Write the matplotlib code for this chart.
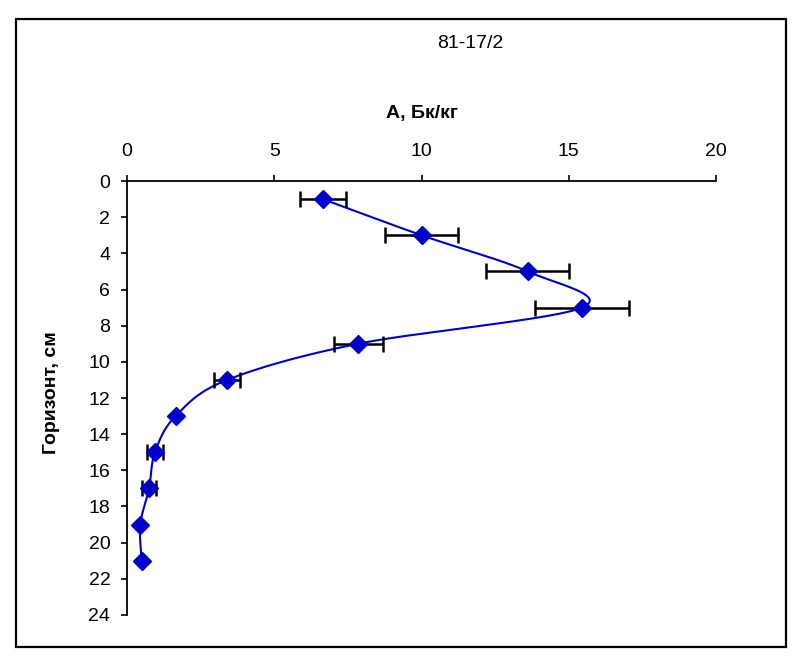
import numpy as np
import matplotlib
matplotlib.use('Agg')
import matplotlib.pyplot as plt
from matplotlib.patches import Rectangle

plt.rcParams['font.family'] = ['Liberation Sans', 'DejaVu Sans']

# depth (cm), activity (Bq/kg), error
depth = [1, 3, 5, 7, 9, 11, 13, 15, 17, 19, 21]
activity = [6.65, 10.0, 13.6, 15.45, 7.85, 3.4, 1.65, 0.95, 0.75, 0.45, 0.5]
err = [0.78, 1.23, 1.4, 1.6, 0.83, 0.45, 0.0, 0.27, 0.23, 0.0, 0.0]

title = '81-17/2'
xlabel = 'А, Бк/кг'
ylabel = 'Горизонт, см'


def excel_smooth(px, py, n=30):
    # bezier smoothing like Excel's "smoothed line", done in pixel space
    P = np.column_stack([px, py])
    out = [P[0]]
    for i in range(len(P) - 1):
        p0 = P[i - 1] if i > 0 else P[i]
        p1, p2 = P[i], P[i + 1]
        p3 = P[i + 2] if i + 2 < len(P) else P[i + 1]
        c1 = p1 + (p2 - p0) / 6
        c2 = p2 - (p3 - p1) / 6
        t = np.linspace(0, 1, n)[1:, None]
        seg = ((1 - t) ** 3) * p1 + 3 * ((1 - t) ** 2) * t * c1 + 3 * (1 - t) * t ** 2 * c2 + t ** 3 * p2
        out.extend(seg)
    return np.array(out)


fig = plt.figure(figsize=(8, 6.64), dpi=100)
ax = fig.add_axes([0.15875, 0.0738, 0.73625, 0.6536])

ax.set_xlim(0, 20)
ax.set_ylim(24, 0)
ax.set_xticks([0, 5, 10, 15, 20])
ax.set_yticks(np.arange(0, 25, 2))
ax.xaxis.tick_top()
ax.spines['right'].set_visible(False)
ax.spines['bottom'].set_visible(False)
ax.spines['top'].set_linewidth(1.3)
ax.spines['left'].set_linewidth(1.3)
ax.tick_params(axis='x', direction='out', length=4, width=1.2, pad=11, labelsize=14)
ax.tick_params(axis='y', direction='out', length=4, width=1.2, pad=8, labelsize=14)

# smoothed curve computed in display coordinates
disp = ax.transData.transform(np.column_stack([activity, depth]))
curve = excel_smooth(disp[:, 0], disp[:, 1])
curve = ax.transData.inverted().transform(curve)
ax.plot(curve[:, 0], curve[:, 1], color='#0000CC', lw=1.5, zorder=2)

ax.errorbar(activity, depth, xerr=err, fmt='none', ecolor='black',
            elinewidth=1.8, capsize=6, capthick=1.8, zorder=3)
ax.plot(activity, depth, 'D', color='#0000CC', ms=9, zorder=4)

fig.text(0.5875, 0.934, title, ha='center', va='center', fontsize=14)
fig.text(0.527, 0.829, xlabel, ha='center', va='center', fontsize=14, fontweight='bold')
fig.text(0.064, 0.408, ylabel, ha='center', va='center', fontsize=14,
         fontweight='bold', rotation=90)

# outer chart border
fig.patches.append(Rectangle((0.02, 0.0256), 0.9625, 0.9458, transform=fig.transFigure,
                             fill=False, ec='black', lw=1.6))

fig.savefig('out.png', dpi=100)
